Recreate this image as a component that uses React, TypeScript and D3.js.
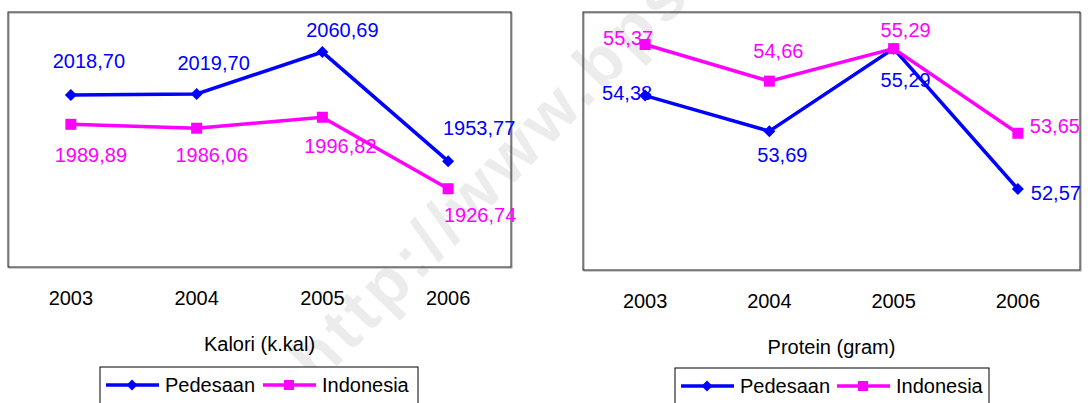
import React from "react";
import * as d3 from "d3";

const years = ["2003", "2004", "2005", "2006"];
const seriesNames = ["Pedesaan", "Indonesia"];
const seriesColors = ["#0000FF", "#FF00FF"];

const kaloriPedesaan = [2018.7, 2019.7, 2060.69, 1953.77];
const kaloriIndonesia = [1989.89, 1986.06, 1996.82, 1926.74];
const proteinPedesaan = [54.38, 53.69, 55.29, 52.57];
const proteinIndonesia = [55.37, 54.66, 55.29, 53.65];

const kaloriDomain = [1850, 2100];
const proteinDomain = [51, 56];

const kaloriTitle = "Kalori (k.kal)";
const proteinTitle = "Protein (gram)";
const watermarkText = "http://www.bps.go.id";

// label placement offsets (dx = center, dy = baseline) relative to each point
const kaloriOffsets = [
  [[18, -27], [17, -24], [20, -15], [31, -26]],
  [[20, 38], [15, 34], [18, 36], [32, 33]],
];
const proteinOffsets = [
  [[-18, 4], [13, 31], [12, 38], [38, 11]],
  [[-17, 0], [9, -23], [12, -12], [37, 0]],
];

const FONT = "Arial, 'Liberation Sans', Helvetica, sans-serif";
const fmt = (v: number) => d3.format(".2f")(v).replace(".", ",");

function Marker({ kind, x, y, color, size }: any) {
  if (kind === 0) {
    const s = size / 2 + 0.5;
    return (
      <path
        d={`M${x},${y - s}L${x + s},${y}L${x},${y + s}L${x - s},${y}Z`}
        fill={color}
      />
    );
  }
  const s = size / 2;
  return <rect x={x - s} y={y - s} width={size} height={size} fill={color} />;
}

function Panel({ box, domain, series, offsets, title, legend }: any) {
  const x = d3
    .scalePoint<string>()
    .domain(years)
    .range([box.x, box.x + box.w])
    .padding(0.5);
  const y = d3.scaleLinear().domain(domain).range([box.y + box.h, box.y]);
  const line = d3
    .line<number>()
    .x((_, i) => x(years[i]) as number)
    .y((d) => y(d));
  const cx = box.x + box.w / 2;
  return (
    <g>
      <rect
        x={box.x + 1}
        y={box.y + 1}
        width={box.w}
        height={box.h}
        fill="none"
        stroke="#9a9a9a"
        strokeWidth={1}
      />
      <rect
        x={box.x}
        y={box.y}
        width={box.w}
        height={box.h}
        fill="none"
        stroke="#222"
        strokeWidth={1}
      />
      {series.map((vals: number[], si: number) => (
        <path
          key={"l" + si}
          d={line(vals) as string}
          fill="none"
          stroke={seriesColors[si]}
          strokeWidth={3.5}
          strokeLinejoin="miter"
        />
      ))}
      {series.map((vals: number[], si: number) =>
        vals.map((v, i) => (
          <Marker
            key={"m" + si + i}
            kind={si}
            x={x(years[i])}
            y={y(v)}
            color={seriesColors[si]}
            size={11}
          />
        ))
      )}
      {series.map((vals: number[], si: number) =>
        vals.map((v, i) => (
          <text
            key={"t" + si + i}
            x={(x(years[i]) as number) + offsets[si][i][0]}
            y={y(v) + offsets[si][i][1]}
            textAnchor="middle"
            fontSize={20}
            fontFamily={FONT}
            fill={seriesColors[si]}
          >
            {fmt(v)}
          </text>
        ))
      )}
      {years.map((yr) => (
        <text
          key={yr}
          x={x(yr)}
          y={box.y + box.h + 38}
          textAnchor="middle"
          fontSize={20}
          fontFamily={FONT}
          fill="#000"
        >
          {yr}
        </text>
      ))}
      <text
        x={cx}
        y={box.y + box.h + 84}
        textAnchor="middle"
        fontSize={20}
        fontFamily={FONT}
        fill="#000"
      >
        {title}
      </text>
      <rect
        x={legend.x}
        y={legend.y}
        width={legend.w}
        height={50}
        fill="#fff"
        stroke="#000"
        strokeWidth={1}
      />
      {seriesNames.map((name, si) => {
        const lx = legend.x + 6 + si * legend.step;
        const ly = legend.y + 18;
        return (
          <g key={name}>
            <line
              x1={lx}
              x2={lx + 53}
              y1={ly}
              y2={ly}
              stroke={seriesColors[si]}
              strokeWidth={3.5}
            />
            <Marker kind={si} x={lx + 26} y={ly} color={seriesColors[si]} size={10} />
            <text
              x={lx + 59}
              y={ly + 6.5}
              fontSize={20}
              fontFamily={FONT}
              fill="#000"
            >
              {name}
            </text>
          </g>
        );
      })}
    </g>
  );
}

export default function App() {
  return (
    <svg
      width={1091}
      height={403}
      style={{ position: "absolute", left: 0, top: 0, background: "#fff" }}
    >
      <rect x={0} y={0} width={1091} height={403} fill="#fff" />
      <text
        transform="translate(318,386) rotate(-46)"
        fontSize={66}
        fontWeight="bold"
        letterSpacing={5}
        fontFamily={FONT}
        fill="#ececec"
      >
        {watermarkText}
      </text>
      <Panel
        box={{ x: 8, y: 12, w: 503, h: 255 }}
        domain={kaloriDomain}
        series={[kaloriPedesaan, kaloriIndonesia]}
        offsets={kaloriOffsets}
        title={kaloriTitle}
        legend={{ x: 100, y: 367, w: 318, step: 157 }}
      />
      <Panel
        box={{ x: 583, y: 12, w: 497, h: 258 }}
        domain={proteinDomain}
        series={[proteinPedesaan, proteinIndonesia]}
        offsets={proteinOffsets}
        title={proteinTitle}
        legend={{ x: 675, y: 368, w: 314, step: 156 }}
      />
    </svg>
  );
}
